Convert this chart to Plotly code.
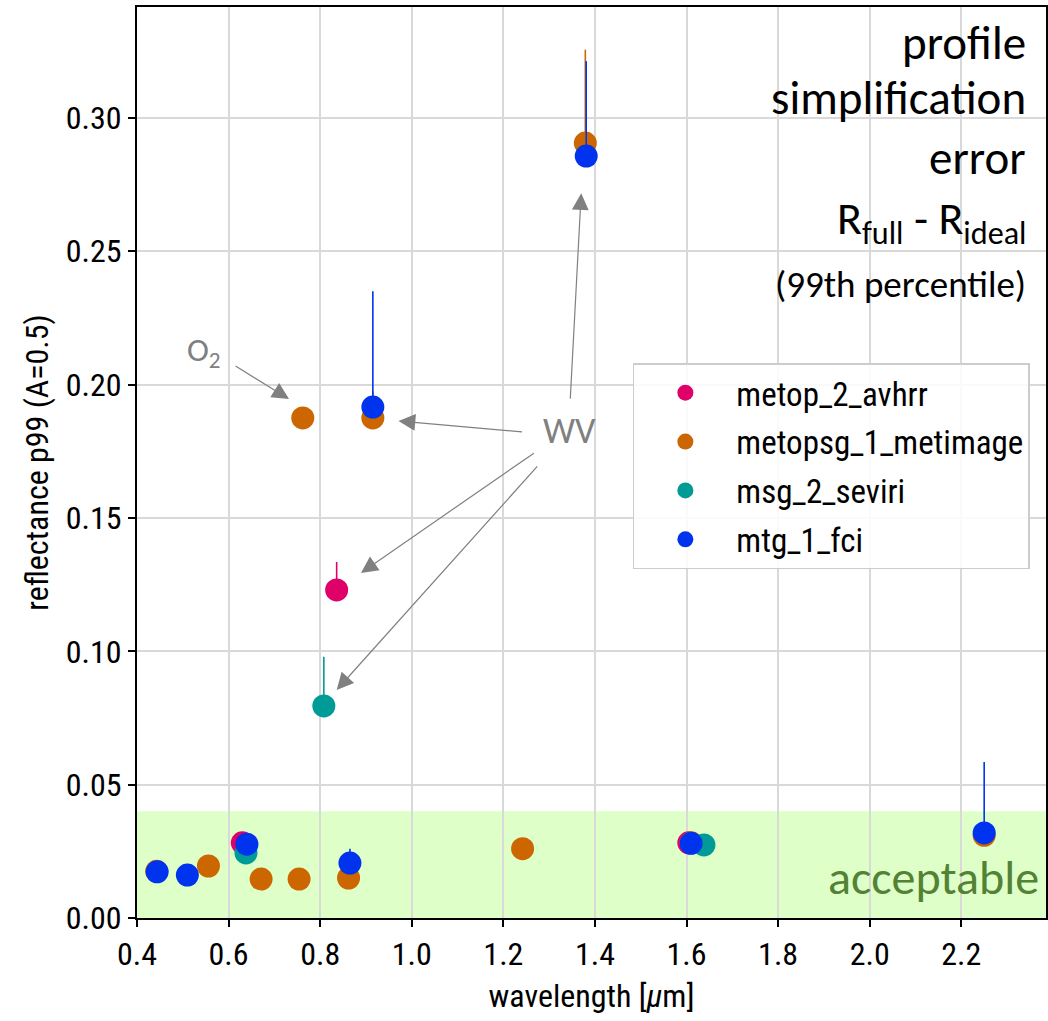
import plotly.graph_objects as go

# ---- data ----
series_names = ["metop_2_avhrr", "metopsg_1_metimage", "msg_2_seviri", "mtg_1_fci"]
series_colors = ["#e0006a", "#cc6600", "#009b96", "#0033ee"]

avhrr_x = [0.630, 0.836, 1.605]
avhrr_y = [0.0282, 0.1230, 0.0282]
avhrr_err = [0.001, 0.0105, 0.001]

metimage_x = [0.443, 0.556, 0.671, 0.754, 0.762, 0.862, 0.915, 1.242, 1.379, 1.610, 2.250]
metimage_y = [0.0175, 0.0195, 0.0146, 0.0146, 0.1875, 0.0150, 0.1875, 0.0260, 0.2906, 0.0282, 0.0310]
metimage_err = [0.0, 0.0, 0.0, 0.0, 0.0, 0.0, 0.010, 0.0, 0.035, 0.0, 0.001]

seviri_x = [0.638, 0.808, 1.638]
seviri_y = [0.0244, 0.0795, 0.0274]
seviri_err = [0.001, 0.0185, 0.001]

fci_x = [0.444, 0.510, 0.640, 0.865, 0.915, 1.381, 1.610, 2.250]
fci_y = [0.0173, 0.0161, 0.0277, 0.0206, 0.1916, 0.2857, 0.0280, 0.0319]
fci_err = [0.0005, 0.0, 0.001, 0.0054, 0.0434, 0.0356, 0.0005, 0.0266]

acceptable_limit = 0.04
x_ticks = [0.4, 0.6, 0.8, 1.0, 1.2, 1.4, 1.6, 1.8, 2.0, 2.2]
y_ticks = [0.00, 0.05, 0.10, 0.15, 0.20, 0.25, 0.30]

title_lines = ["profile", "simplification", "error",
               "R<sub>full</sub> - R<sub>ideal</sub>", "(99th percentile)"]

COND = "Roboto Condensed, Liberation Sans Narrow, DejaVu Sans Condensed, Roboto, sans-serif"
CAL = "Carlito, Calibri, Lato, Open Sans, sans-serif"

fig = go.Figure()

# acceptable band
fig.add_shape(type="rect", xref="paper", yref="y", x0=0, x1=1, y0=0, y1=acceptable_limit,
              fillcolor="#dfffc8", line_width=0, layer="below")

all_x = [avhrr_x, metimage_x, seviri_x, fci_x]
all_y = [avhrr_y, metimage_y, seviri_y, fci_y]
all_e = [avhrr_err, metimage_err, seviri_err, fci_err]

for i, name in enumerate(series_names):
    fig.add_trace(go.Scatter(
        x=all_x[i], y=all_y[i], mode="markers", name=name,
        legendgroup=name,
        marker=dict(size=23, color=series_colors[i]),
        error_y=dict(type="data", symmetric=False, array=all_e[i],
                     arrayminus=[0] * len(all_e[i]), width=0, thickness=1.6,
                     color=series_colors[i]),
    ))

# right-side title text
title_y = [0.960, 0.900, 0.834, 0.764, 0.695]
title_sizes = [47, 47, 47, 46, 37]
for t, yy, s in zip(title_lines, title_y, title_sizes):
    fig.add_annotation(text=t, xref="paper", yref="paper", x=0.980, y=yy,
                       xanchor="right", yanchor="middle", showarrow=False,
                       font=dict(family=CAL, size=s, color="black"))

fig.add_annotation(text="acceptable", xref="paper", yref="paper", x=0.9945, y=0.045,
                   xanchor="right", yanchor="middle", showarrow=False,
                   font=dict(family=CAL, size=48, color="#548235"))

gray = "#808080"
# WV label
fig.add_annotation(text="WV", x=1.344, y=0.1826, showarrow=False,
                   font=dict(family=CAL, size=36, color=gray))
# WV arrows (tip, tail)
wv_arrows = [((0.971, 0.1864), (1.244, 0.1822)),
             ((1.370, 0.2718), (1.346, 0.1942)),
             ((0.889, 0.1294), (1.270, 0.1747)),
             ((0.836, 0.0855), (1.277, 0.1699))]
for (tx, ty), (sx, sy) in wv_arrows:
    fig.add_annotation(text="", x=tx, y=ty, ax=sx, ay=sy, axref="x", ayref="y",
                       showarrow=True, arrowhead=2, arrowsize=2.8, arrowwidth=1.2,
                       arrowcolor=gray)
# O2
fig.add_annotation(text="O<sub>2</sub>", x=0.547, y=0.2122, showarrow=False,
                   font=dict(family=CAL, size=33, color=gray))
fig.add_annotation(text="", x=0.732, y=0.1946, ax=0.612, ay=0.2073, axref="x", ayref="y",
                   showarrow=True, arrowhead=2, arrowsize=2.8, arrowwidth=1.2,
                   arrowcolor=gray)

fig.update_layout(
    width=1048, height=1021,
    margin=dict(l=137, r=0, t=7, b=103),
    paper_bgcolor="white", plot_bgcolor="white",
    font=dict(family=COND, size=32, color="black"),
    showlegend=True,
    legend=dict(x=0.5455, y=0.609, xanchor="left", yanchor="top",
                bgcolor="rgba(255,255,255,0.85)", bordercolor="#cccccc", borderwidth=1.5,
                font=dict(family=COND, size=33), tracegroupgap=3,
                itemsizing="trace", itemwidth=92),
    xaxis=dict(range=[0.4, 2.385], tickvals=x_ticks, tickformat=".1f",
               showgrid=True, gridcolor="#d9d9d9", gridwidth=1.5,
               showline=True, linecolor="black", linewidth=2, mirror=True,
               ticks="outside", ticklen=7, tickwidth=2, tickcolor="black",
               title=dict(text="wavelength [<i>μ</i>m]", font=dict(size=32), standoff=12),
               tickfont=dict(size=32), zeroline=False),
    yaxis=dict(range=[0, 0.3416], tickvals=y_ticks, tickformat=".2f",
               showgrid=True, gridcolor="#d9d9d9", gridwidth=1.5,
               showline=True, linecolor="black", linewidth=2, mirror=True,
               ticks="outside", ticklen=7, tickwidth=2, tickcolor="black",
               title=dict(text="reflectance p99 (A=0.5)", font=dict(size=32), standoff=8),
               tickfont=dict(size=32), zeroline=False),
)

fig.write_html("out.html")
